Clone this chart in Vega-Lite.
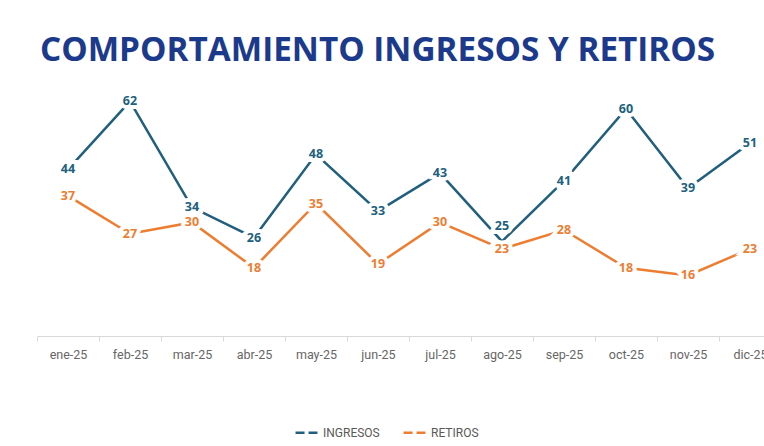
{
  "$schema": "https://vega.github.io/schema/vega-lite/v6.json",
  "width": 727,
  "height": 265,
  "autosize": {"type": "none"},
  "padding": {"left": 37, "top": 71, "right": 0, "bottom": 110},
  "background": "white",
  "config": {"view": {"stroke": null}},
  "title": {
    "text": "COMPORTAMIENTO INGRESOS Y RETIROS",
    "anchor": "start",
    "frame": "group",
    "font": "Open Sans",
    "fontSize": 33.3,
    "fontWeight": "bold",
    "color": "#1c3a8c",
    "baseline": "alphabetic",
    "offset": -23,
    "dx": 3
  },
  "data": {
    "values": [
      {"mes": "ene-25", "serie": "INGRESOS", "valor": 44},
      {"mes": "feb-25", "serie": "INGRESOS", "valor": 62},
      {"mes": "mar-25", "serie": "INGRESOS", "valor": 34},
      {"mes": "abr-25", "serie": "INGRESOS", "valor": 26},
      {"mes": "may-25", "serie": "INGRESOS", "valor": 48},
      {"mes": "jun-25", "serie": "INGRESOS", "valor": 33},
      {"mes": "jul-25", "serie": "INGRESOS", "valor": 43},
      {"mes": "ago-25", "serie": "INGRESOS", "valor": 25},
      {"mes": "sep-25", "serie": "INGRESOS", "valor": 41},
      {"mes": "oct-25", "serie": "INGRESOS", "valor": 60},
      {"mes": "nov-25", "serie": "INGRESOS", "valor": 39},
      {"mes": "dic-25", "serie": "INGRESOS", "valor": 51},
      {"mes": "ene-25", "serie": "RETIROS", "valor": 37},
      {"mes": "feb-25", "serie": "RETIROS", "valor": 27},
      {"mes": "mar-25", "serie": "RETIROS", "valor": 30},
      {"mes": "abr-25", "serie": "RETIROS", "valor": 18},
      {"mes": "may-25", "serie": "RETIROS", "valor": 35},
      {"mes": "jun-25", "serie": "RETIROS", "valor": 19},
      {"mes": "jul-25", "serie": "RETIROS", "valor": 30},
      {"mes": "ago-25", "serie": "RETIROS", "valor": 23},
      {"mes": "sep-25", "serie": "RETIROS", "valor": 28},
      {"mes": "oct-25", "serie": "RETIROS", "valor": 18},
      {"mes": "nov-25", "serie": "RETIROS", "valor": 16},
      {"mes": "dic-25", "serie": "RETIROS", "valor": 23}
    ]
  },
  "encoding": {
    "x": {
      "field": "mes",
      "type": "ordinal",
      "sort": ["ene-25", "feb-25", "mar-25", "abr-25", "may-25", "jun-25", "jul-25", "ago-25", "sep-25", "oct-25", "nov-25", "dic-25"],
      "scale": {"range": [0, 744], "paddingInner": 0, "paddingOuter": 0},
      "axis": {
        "title": null,
        "tickBand": "extent",
        "domainColor": "#d9d9d9",
        "tickColor": "#d9d9d9",
        "tickSize": 5,
        "labelFont": "Roboto",
        "labelFontSize": 12.5,
        "labelColor": "#666666",
        "labelPadding": 7,
        "labelAngle": 0,
        "grid": false
      }
    },
    "y": {
      "field": "valor",
      "type": "quantitative",
      "scale": {"domain": [0, 70]},
      "axis": null
    },
    "color": {
      "field": "serie",
      "type": "nominal",
      "scale": {"domain": ["INGRESOS", "RETIROS"], "range": ["#215f7e", "#ED7D31"]},
      "legend": {
        "orient": "none",
        "legendX": 257,
        "legendY": 349,
        "direction": "horizontal",
        "title": null,
        "symbolType": "stroke",
        "symbolDash": [9, 4],
        "symbolStrokeWidth": 2.5,
        "symbolSize": 480,
        "labelFont": "Roboto",
        "labelFontSize": 12,
        "labelColor": "#595959",
        "columnPadding": 18
      }
    }
  },
  "layer": [
    {"mark": {"type": "line", "strokeWidth": 2.5}},
    {
      "transform": [{"filter": "!(datum.mes == 'ago-25' && datum.serie == 'INGRESOS')"}],
      "layer": [
        {
          "mark": {"type": "text", "font": "Open Sans", "fontWeight": "bold", "fontSize": 12.5, "stroke": "white", "strokeWidth": 8, "baseline": "middle"},
          "encoding": {"text": {"field": "valor"}, "color": {"value": "white"}}
        },
        {
          "mark": {"type": "text", "font": "Open Sans", "fontWeight": "bold", "fontSize": 12.5, "baseline": "middle"},
          "encoding": {"text": {"field": "valor"}}
        }
      ]
    },
    {
      "transform": [{"filter": "datum.mes == 'ago-25' && datum.serie == 'INGRESOS'"}],
      "layer": [
        {
          "mark": {"type": "text", "font": "Open Sans", "fontWeight": "bold", "fontSize": 12.5, "stroke": "white", "strokeWidth": 8, "baseline": "middle", "dy": -15},
          "encoding": {"text": {"field": "valor"}, "color": {"value": "white"}}
        },
        {
          "mark": {"type": "text", "font": "Open Sans", "fontWeight": "bold", "fontSize": 12.5, "baseline": "middle", "dy": -15},
          "encoding": {"text": {"field": "valor"}}
        }
      ]
    }
  ]
}
